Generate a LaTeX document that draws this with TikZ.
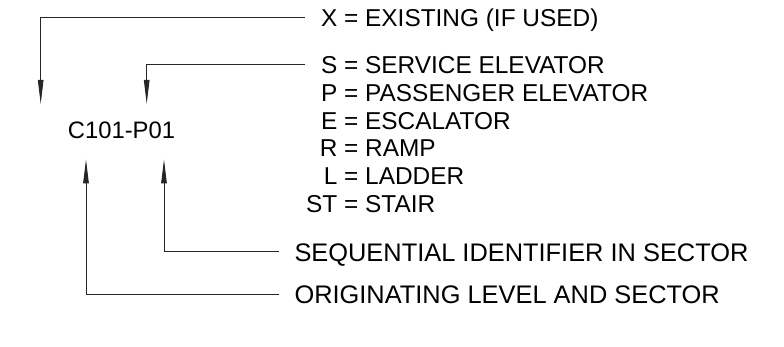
\documentclass[tikz,border=0pt]{standalone}
\usepackage{fontspec}
\setmainfont{Liberation Sans}
\usetikzlibrary{arrows.meta}
\begin{document}
\begin{tikzpicture}[x=1pt,y=-1pt,
  lbl/.style={inner sep=0pt, anchor=base west, font=\fontsize{24.4}{28}\selectfont},
  codelbl/.style={lbl, font=\fontsize{23.8}{28}\selectfont},
  desclbl/.style={lbl, font=\fontsize{25.4}{30}\selectfont},
  leader/.style={line width=0.9pt, draw=black!85},
  pointer/.style={leader, -{Triangle[length=24pt,width=5.5pt]}}]
\useasboundingbox (0,0) rectangle (784,347);
% main code
\node[codelbl] (code) at (67.7,139) {C101-P01};
% legend
\node[lbl] (xl) at (365,26.7) {\llap{X = }EXISTING (IF USED)};
\node[lbl] (sl) at (365,74) {\llap{S = }SERVICE ELEVATOR};
\node[lbl] (pl) at (365,101.7) {\llap{P = }PASSENGER ELEVATOR};
\node[lbl] (el) at (365,129.3) {\llap{E = }ESCALATOR};
\node[lbl] (rl) at (365,157) {\llap{R = }RAMP};
\node[lbl] (ll) at (365,184.7) {\llap{L = }LADDER};
\node[lbl] (stl) at (365,212.3) {\llap{ST = }STAIR};
\node[desclbl] (seq) at (294.3,261.7) {SEQUENTIAL IDENTIFIER IN SECTOR};
\node[desclbl] (orig) at (294.3,303.3) {ORIGINATING LEVEL AND SECTOR};
% leader ends and arrow tips
\coordinate (xend) at (305,17);
\coordinate (send) at (305,64.3);
\coordinate (seqend) at (279.3,251.3);
\coordinate (origend) at (279.3,294);
\coordinate (xtip) at (40.7,104);
\coordinate (stip) at (146.7,104);
\coordinate (seqtip) at (164,159.3);
\coordinate (origtip) at (86,159.3);
% connectors
\draw[pointer] (xend) -| (xtip);
\draw[pointer] (send) -| (stip);
\draw[pointer] (seqend) -| (seqtip);
\draw[pointer] (origend) -| (origtip);
\end{tikzpicture}
\end{document}
